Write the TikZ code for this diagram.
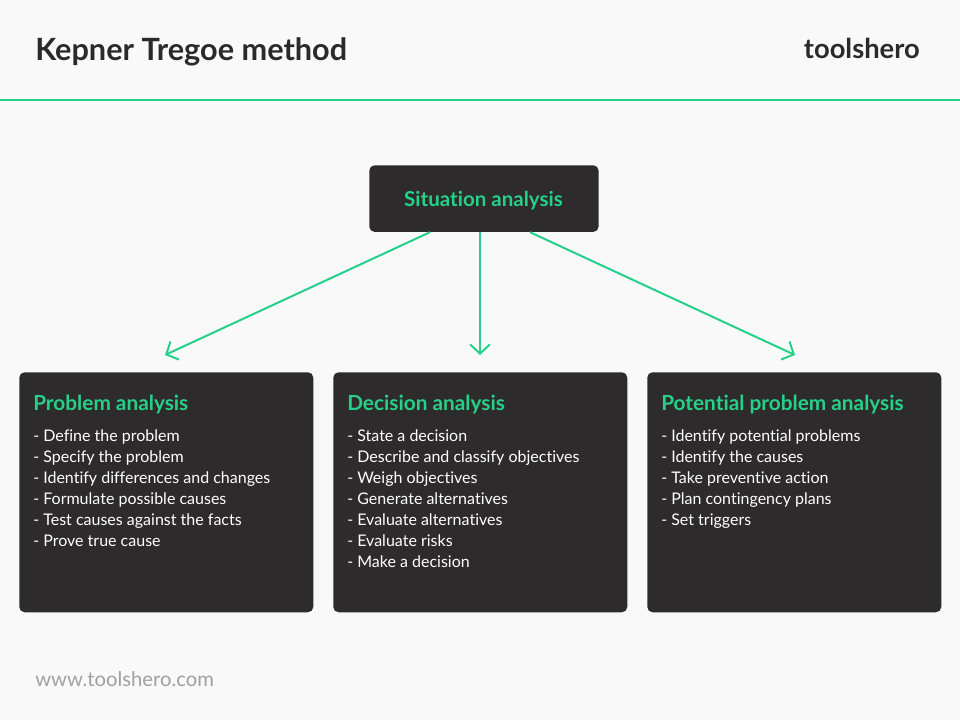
\documentclass[tikz,border=0pt]{standalone}
\usepackage{fontspec}
\setmainfont{Lato}[Ligatures={NoCommon}]
\usetikzlibrary{arrows.meta}
\definecolor{bgc}{RGB}{249,249,249}
\definecolor{tgreen}{RGB}{38,208,136}
\definecolor{boxc}{RGB}{45,43,43}
\definecolor{titlec}{RGB}{42,42,42}
\definecolor{footc}{RGB}{160,160,160}
\tikzset{
  darkbox/.style={fill=boxc, rounded corners=4pt},
  heading/.style={anchor=base west, inner sep=0pt, text=tgreen, font=\fontsize{15.6}{18}\selectfont\bfseries},
  item/.style={anchor=base west, inner sep=0pt, text=white, font=\fontsize{12}{14}\selectfont},
  conn/.style={draw=tgreen, line width=1.5pt, -{Straight Barb[length=7pt, width=15pt, line width=1.5pt]}}
}
\begin{document}
\begin{tikzpicture}[x=0.75pt,y=-0.75pt]
\fill[bgc] (0,0) rectangle (960,720);
\useasboundingbox (0,0) rectangle (960,720);
\draw[tgreen, line width=1.5pt] (0,100) -- (960,100);
\node[anchor=base west, inner sep=0pt, text=titlec, font=\fontsize{23}{27}\selectfont\bfseries] (title) at (35,61) {Kepner Tregoe method};
\node[anchor=base east, inner sep=0pt, text=titlec, font=\fontsize{20.5}{24}\selectfont\bfseries] (logo) at (920,59) {toolshero};
\node[anchor=base west, inner sep=0pt, text=footc, font=\fontsize{15.2}{18}\selectfont] (foot) at (35,686) {www.toolshero.com};

% top box
\node[darkbox, minimum width=172pt, minimum height=50pt, anchor=north west, inner sep=0pt] (sit) at (369,165) {};
\node[anchor=base, inner sep=0pt, text=tgreen, font=\fontsize{15.4}{18}\selectfont\bfseries] (sittxt) at (483.5,207) {Situation analysis};

% bottom boxes
\node[darkbox, minimum width=220.5pt, minimum height=180pt, anchor=north west, inner sep=0pt] (b1) at (19,372) {};
\node[darkbox, minimum width=220.5pt, minimum height=180pt, anchor=north west, inner sep=0pt] (b2) at (333,372) {};
\node[darkbox, minimum width=220.5pt, minimum height=180pt, anchor=north west, inner sep=0pt] (b3) at (647,372) {};

\node[heading] (h1) at (33,410) {Problem analysis};
\node[heading] (h2) at (347,410) {Decision analysis};
\node[heading] (h3) at (661,410) {Potential problem analysis};

\foreach \t [count=\i] in {Define the problem, Specify the problem, Identify differences and changes, Formulate possible causes, Test causes against the facts, Prove true cause}
  \node[item] (pa\i) at (33,420+21*\i) {- \t};
\foreach \t [count=\i] in {State a decision, Describe and classify objectives, Weigh objectives, Generate alternatives, Evaluate alternatives, Evaluate risks, Make a decision}
  \node[item] (da\i) at (347,420+21*\i) {- \t};
\foreach \t [count=\i] in {Identify potential problems, Identify the causes, Take preventive action, Plan contingency plans, Set triggers}
  \node[item] (ppa\i) at (661,420+21*\i) {- \t};

\coordinate (t1) at (165,355);
\coordinate (t2) at (480,355);
\coordinate (t3) at (795,355);
\path (sit.south west) ++(61,0) coordinate (s1);
\path (sit.south west) ++(111,0) coordinate (s2);
\path (sit.south west) ++(161,0) coordinate (s3);
\draw[conn] (s1) -- (t1);
\draw[conn] (s2) -- (t2);
\draw[conn] (s3) -- (t3);
\end{tikzpicture}
\end{document}
